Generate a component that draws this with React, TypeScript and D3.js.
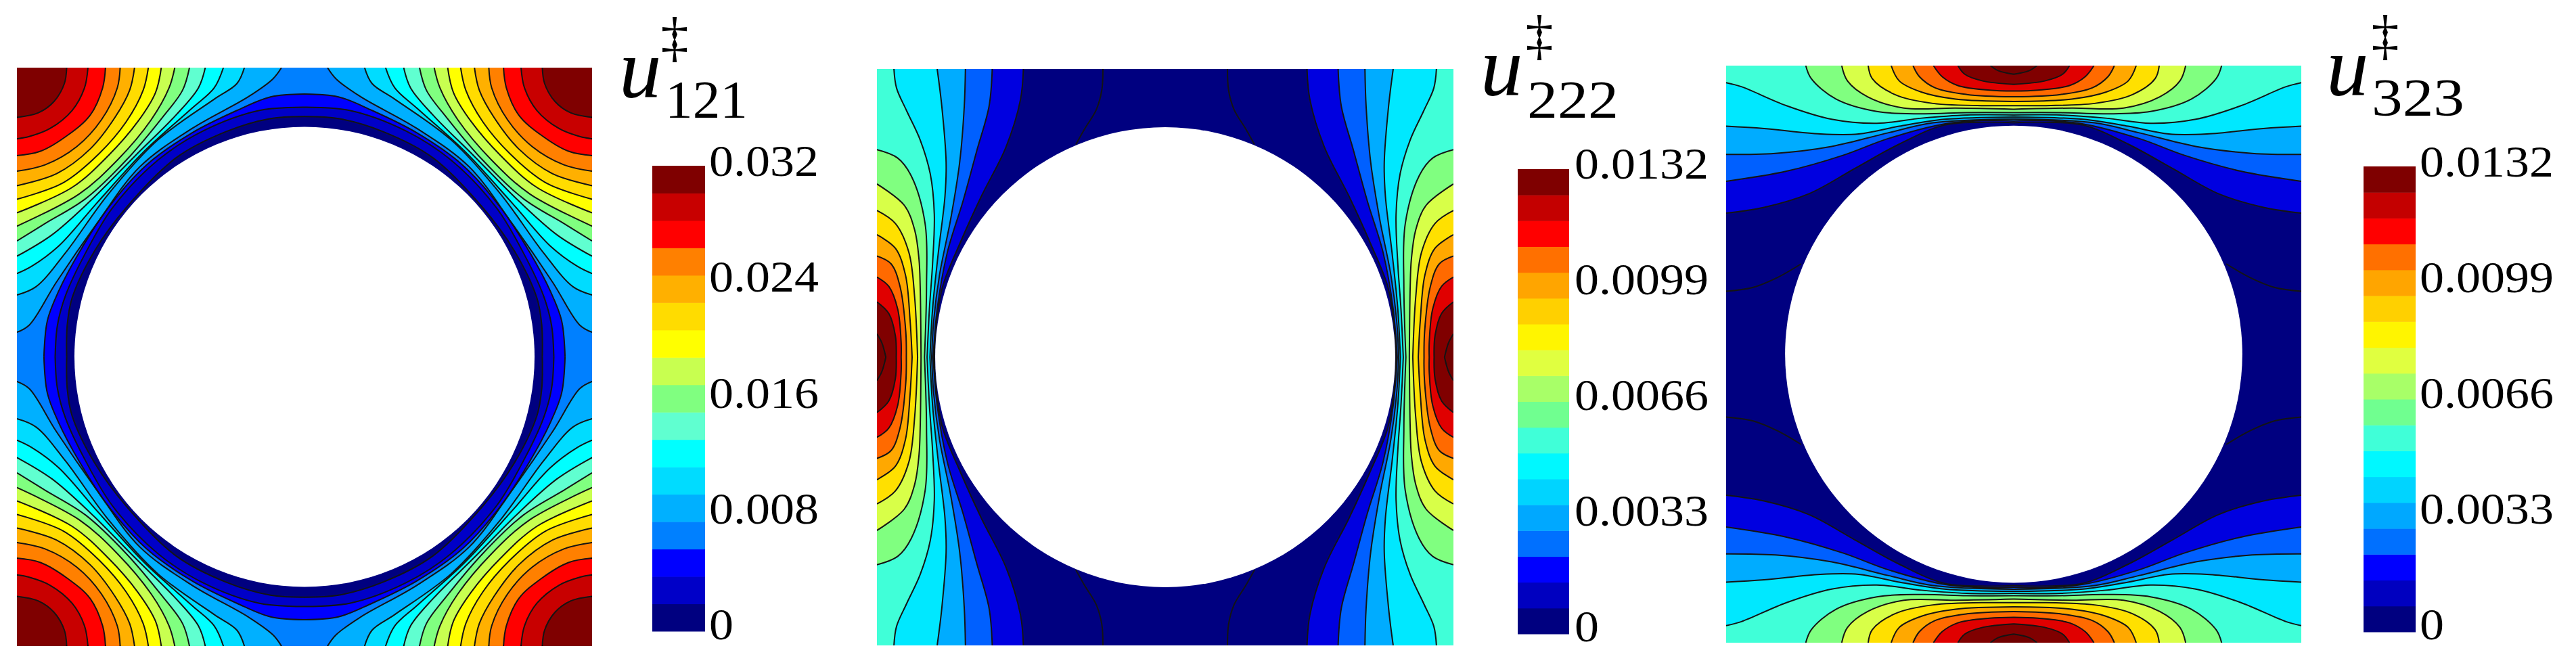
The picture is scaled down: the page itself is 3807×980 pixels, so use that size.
import React from 'react';
import * as d3 from 'd3';

type Pt = [number, number];

// Isolines, one quadrant only (top-left), the fields are symmetric.
// Units: percent of the half cell, (0,0) is the cell corner and (100,100) the cell centre.

// u121, lines around the corner peak, low to high
const u121CornerLines: Pt[][] = [
  [[92, 0], [89, 3.9], [80.4, 10.1], [60.8, 21.1], [42.7, 34.3], [27.8, 53.9], [13.7, 74.2], [4.3, 89], [0, 91.5]],
  [[79.1, 0], [76.5, 5.5], [68.6, 10.9], [49, 25], [31.8, 43.7], [16.9, 64], [6.7, 75.7], [0, 78.6]],
  [[71.8, 0], [68.6, 7], [60.8, 14.1], [44.3, 28.9], [27.8, 46.8], [14.5, 61.7], [5.1, 68.7], [0, 71.2]],
  [[65.5, 0], [63.1, 7], [55.3, 16.4], [41.2, 30.4], [25.5, 46.1], [12.2, 57.8], [0, 65.2]],
  [[60, 0], [57.6, 7.8], [50.6, 17.2], [38, 32], [23.9, 45.3], [9.8, 53.9], [0, 59.9]],
  [[54.9, 0], [52.9, 7], [46.7, 18], [34.9, 32], [21.6, 43.7], [0, 54.8]],
  [[50.2, 0], [48.2, 8.6], [42, 18.7], [31.8, 30.4], [19.2, 41.4], [0, 50.2]],
  [[45.7, 0], [43.9, 7.8], [38, 18.7], [28.6, 29.7], [16.1, 39.8], [0, 45.5]],
  [[40.9, 0], [39.2, 7.8], [34.1, 17.2], [25.5, 28.1], [13.7, 36.7], [0, 40.8]],
  [[35.9, 0], [34.9, 7], [29.4, 18], [20.8, 27.3], [9.8, 33.6], [0, 35.8]],
  [[30.8, 0], [29.8, 7], [25.5, 16.4], [17.6, 23.4], [8.2, 28.9], [0, 30.4]],
  [[24.7, 0], [23.5, 7], [19.2, 14.8], [11.4, 21.1], [4.3, 23.8], [0, 24.6]],
  [[17.3, 0], [16.5, 5.5], [12.9, 11.7], [7.5, 15.6], [0, 17.2]],
];
// u121, rings around the hole, outer to inner
const u121RingLines: Pt[][] = [
  [[100, 9.1], [88.2, 10.1], [76.5, 14.8], [60.8, 22.6], [45.1, 33.6], [31.8, 48.4], [21.6, 64], [14.5, 77.3], [10.6, 87.4], [9.4, 100]],
  [[100, 13.7], [84.3, 14.8], [64.7, 21.9], [49, 32], [33.3, 48.4], [23.9, 64], [16.9, 78.8], [14.1, 89], [13.3, 100]],
  [[100, 16.9], [88.2, 17.6], [72.5, 22.2], [55.3, 31.2], [38, 48.4], [27.1, 63.2], [19.2, 79.6], [17.5, 89], [17.3, 100]],
];

// u222, lines running from the top edge down to the hole, low to high
const u222TopLines: Pt[][] = [
  [[50.8, 0], [49.8, 10.6], [44.8, 27], [36.2, 44.2], [29.1, 59.8], [22.8, 75.4], [20.5, 89.5], [19.9, 100]],
  [[40, 0], [38.9, 12.9], [34.6, 28.5], [29.9, 45.7], [24.4, 63.7], [20.9, 83.3], [19.5, 100]],
  [[30.7, 0], [30.3, 12.9], [28.7, 32.4], [25.6, 52], [21.7, 71.5], [19.7, 87.2], [19, 100]],
  [[20.9, 0], [22.5, 12.9], [24, 32.4], [23.6, 44.2], [21.3, 63.7], [19.3, 83.3], [18.4, 100]],
  [[5.9, 0], [6.8, 6.6], [10.3, 14.5], [15, 24.6], [18.5, 36.4], [19.9, 50.4], [19.3, 67.6], [18.2, 83.3], [17.4, 100]],
];
// u222, lines around the side peak, low to high
const u222SideLines: Pt[][] = [
  [[0, 28], [7.2, 30.9], [11.9, 37.1], [16.7, 53.6], [17.2, 75.4], [16.5, 100]],
  [[0, 39.9], [9.5, 47.3], [13.1, 55.9], [14.6, 66.1], [15, 75.4], [15.3, 100]],
  [[0, 49.1], [6.4, 53.6], [11.1, 63.7], [13.1, 79.4], [14.1, 100]],
  [[0, 57.5], [6.4, 62.2], [9.9, 71.5], [11.5, 87.2], [12.2, 100]],
  [[0, 64.9], [4.9, 67.6], [8, 75.4], [10, 91.1], [10.2, 100]],
  [[0, 72.2], [4.1, 75.4], [7.2, 83.3], [8.4, 95], [8.4, 100]],
  [[0, 80.8], [4.1, 84.8], [6.4, 92.6], [6.7, 100]],
  [[0, 91.9], [1.7, 95], [3.1, 100]],
];
// zero level, inside the lowest band
const u222ZeroLine: Pt[] = [[78.4, 0], [78, 7.4], [76.1, 14.1], [72.1, 20.7], [69, 26.2]];

// u323, lines running from the left edge to the top of the hole, low to high
const u323LeftLines: Pt[][] = [
  [[0, 51.1], [13.2, 49.1], [28.8, 44.4], [44.5, 35.8], [60.2, 27.2], [75.9, 20.6], [91.5, 19.6], [100, 19.8]],
  [[0, 40.1], [21, 36.6], [40.6, 31.1], [56.3, 25.3], [75.9, 20.2], [91.5, 19], [100, 19.2]],
  [[0, 30.8], [17.1, 30.4], [36.7, 28], [56.3, 23.3], [71.9, 19.8], [100, 18.5]],
  [[0, 21], [13.2, 21.8], [32.8, 23.7], [46.1, 23.7], [60.2, 21], [75.9, 18.6], [100, 17.8]],
  [[0, 5.9], [5.3, 7.3], [21, 13.9], [36.7, 18.6], [52.4, 20], [68, 18.2], [83.7, 17.1], [100, 17.1]],
];
// u323, lines around the top peak, low to high
const u323TopLines: Pt[][] = [
  [[27.7, 0], [29.6, 4.5], [38.2, 11.6], [52.4, 15.9], [68, 16.7], [83.7, 16.3], [100, 16.3]],
  [[40.2, 0], [42.2, 5.3], [49.2, 10.8], [61.8, 14.7], [79.8, 14.7], [100, 15.1]],
  [[49.4, 0], [50.8, 4.5], [58.6, 10], [71.9, 13.1], [100, 13.9]],
  [[57.4, 0], [60.2, 5.3], [68, 9.2], [79.8, 11.6], [100, 12.4]],
  [[65, 0], [67.2, 3.8], [72.7, 7.7], [83.7, 10], [100, 10.8]],
  [[72.1, 0], [75.1, 3.8], [80.6, 6.9], [91.6, 8.5], [100, 8.8]],
  [[80.6, 0], [83, 3], [89.2, 5.3], [100, 6.5]],
  [[91.9, 0], [94.7, 1.8], [100, 3]],
];
const u323ZeroLine: Pt[] = [[0, 78.2], [9.2, 76.9], [17.9, 73.4], [26.1, 68.7]];

// colours, low to high
const jet17 = ['#000080', '#0000c8', '#0000ff', '#0080ff', '#00b0ff', '#00dcff', '#00ffff', '#60ffd0', '#80ff80', '#c8ff50', '#ffff00', '#ffdc00', '#ffb000', '#ff8000', '#ff0000', '#c80000', '#7f0000'];
const jet18 = ['#000080', '#0000c0', '#0000ff', '#0070ff', '#00a8ff', '#00d4ff', '#00f8ff', '#40ffd8', '#70ff90', '#a8ff68', '#e0ff40', '#fff500', '#ffd000', '#ffa500', '#ff7000', '#ff0000', '#c40000', '#7f0000'];
const fieldBands = ['#000080', '#0000e0', '#0060ff', '#00acff', '#00e8ff', '#40ffd8', '#80ff80', '#d8ff48', '#ffe000', '#ffa800', '#ff6a00', '#e00000', '#800000', '#700000'];

const ticks121 = ['0', '0.008', '0.016', '0.024', '0.032'];
const ticks222 = ['0', '0.0033', '0.0066', '0.0099', '0.0132'];
const ticks323 = ['0', '0.0033', '0.0066', '0.0099', '0.0132'];

type Layer = { points: Pt[]; close: Pt[]; color: string };

const panels = [
  {
    id: 'u121', sub: '121', box: [25, 875, 100, 955], hole: 80, background: jet17[3],
    layers: [
      ...u121CornerLines.map((points, i): Layer => ({ points, close: [[0, 0]], color: jet17[i + 4] })),
      ...u121RingLines.map((points, i): Layer => ({ points, close: [[100, 100]], color: jet17[2 - i] })),
    ],
    extraLines: [] as Pt[][],
    bar: { colors: jet17, x: 964, width: 78, top: 245, bottom: 933 },
    ticks: ticks121, tickX: 1048, tickTop: 260, tickBottom: 945,
    title: { uX: 915, uY: 144, daggerX: 997, subX: 983, subY: 173, subW: 122 },
  },
  {
    id: 'u222', sub: '222', box: [1296, 2148, 102, 954], hole: 79.8, background: fieldBands[0],
    layers: [
      ...u222TopLines.map((points, i): Layer => ({ points, close: [[0, 100], [0, 0]], color: fieldBands[i + 1] })),
      ...u222SideLines.map((points, i): Layer => ({ points, close: [[0, 100]], color: fieldBands[i + 6] })),
    ],
    extraLines: [u222ZeroLine],
    bar: { colors: jet18, x: 2243, width: 76, top: 250, bottom: 937 },
    ticks: ticks222, tickX: 2327, tickTop: 264, tickBottom: 948,
    title: { uX: 2188, uY: 141, daggerX: 2275, subX: 2257, subY: 173, subW: 135 },
  },
  {
    id: 'u323', sub: '323', box: [2551, 3401, 97, 950], hole: 79.5, background: fieldBands[0],
    layers: [
      ...u323LeftLines.map((points, i): Layer => ({ points, close: [[100, 0], [0, 0]], color: fieldBands[i + 1] })),
      ...u323TopLines.map((points, i): Layer => ({ points, close: [[100, 0]], color: fieldBands[i + 6] })),
    ],
    extraLines: [u323ZeroLine],
    bar: { colors: jet18, x: 3493, width: 77, top: 246, bottom: 934 },
    ticks: ticks323, tickX: 3576, tickTop: 261, tickBottom: 945,
    title: { uX: 3438, uY: 141, daggerX: 3525, subX: 3505, subY: 170, subW: 137 },
  },
];

const FONT = '"Liberation Serif", "Times New Roman", serif';
const LINE_COLOR = '#141414';

// the labels in the figure are stretched sideways, so set the advance by hand
const tickWidth = (t: string) => t.replace('.', '').length * 36 + (t.includes('.') ? 18 : 0);

function Panel({ panel }: { panel: (typeof panels)[number] }) {
  const [left, right, top, bottom] = panel.box;
  const cx = (left + right) / 2;
  const cy = (top + bottom) / 2;

  // one scale per side, the mirrored quadrants just flip the range
  const xs = [left, right].map((r) => d3.scaleLinear().domain([0, 100]).range([r, cx]));
  const ys = [top, bottom].map((r) => d3.scaleLinear().domain([0, 100]).range([r, cy]));
  const quadrants = xs.flatMap((x) => ys.map((y) => ({ x, y })));

  const { bar } = panel;
  const bandY = d3.scaleBand<number>()
    .domain(d3.range(bar.colors.length))
    .range([bar.bottom, bar.top]);
  const tickY = d3.scalePoint<string>()
    .domain(panel.ticks)
    .range([panel.tickBottom, panel.tickTop]);

  const clipId = `clip-${panel.id}`;
  const holeR = xs[0](100) - xs[0](100 - panel.hole);

  const lineFor = (q: (typeof quadrants)[number]) =>
    d3.line<Pt>()
      .x((d) => q.x(d[0]))
      .y((d) => q.y(d[1]))
      .curve(d3.curveCatmullRom.alpha(0.5));

  return (
    <g>
      <clipPath id={clipId}>
        <rect x={left} y={top} width={right - left} height={bottom - top} />
      </clipPath>
      <g clipPath={`url(#${clipId})`}>
        <rect x={left} y={top} width={right - left} height={bottom - top} fill={panel.background} />
        {panel.layers.map((layer, i) =>
          quadrants.map((q, j) => {
            const tail = layer.close.map((p) => `L${q.x(p[0])},${q.y(p[1])}`).join('');
            return (
              <path
                key={`${i}-${j}`}
                d={`${lineFor(q)(layer.points)}${tail}Z`}
                fill={layer.color}
                stroke={layer.color}
                strokeWidth={1}
              />
            );
          }),
        )}
        {[...panel.layers.map((l) => l.points), ...panel.extraLines].map((points, i) =>
          quadrants.map((q, j) => (
            <path key={`${i}-${j}`} d={lineFor(q)(points) as string} fill="none" stroke={LINE_COLOR} strokeWidth={2} />
          )),
        )}
        <circle cx={cx} cy={cy} r={holeR} fill="#fff" />
      </g>

      {bar.colors.map((c, i) => (
        <rect key={c} x={bar.x} y={bandY(i)} width={bar.width} height={bandY.bandwidth() + 0.5} fill={c} />
      ))}
      {panel.ticks.map((t) => (
        <text
          key={t}
          x={panel.tickX}
          y={tickY(t)}
          fontFamily={FONT}
          fontSize={66}
          fill="#000"
          textLength={tickWidth(t)}
          lengthAdjust="spacingAndGlyphs"
        >
          {t}
        </text>
      ))}

      <text x={panel.title.uX} y={panel.title.uY} fontFamily={FONT} fontStyle="italic" fontSize={125} fill="#000">
        u
      </text>
      <text x={panel.title.daggerX} y={panel.title.uY - 62} textAnchor="middle" fontFamily={FONT} fontSize={82} fill="#000">
        ‡
      </text>
      <text
        x={panel.title.subX}
        y={panel.title.subY}
        fontFamily={FONT}
        fontSize={78}
        fill="#000"
        textLength={panel.title.subW}
        lengthAdjust="spacingAndGlyphs"
      >
        {panel.sub}
      </text>
    </g>
  );
}

export default function App() {
  return (
    <svg
      width={3807}
      height={980}
      viewBox="0 0 3807 980"
      style={{ position: 'absolute', left: 0, top: 0, display: 'block', background: '#fff', filter: 'blur(0.6px)' }}
    >
      {panels.map((p) => (
        <Panel key={p.id} panel={p} />
      ))}
    </svg>
  );
}
